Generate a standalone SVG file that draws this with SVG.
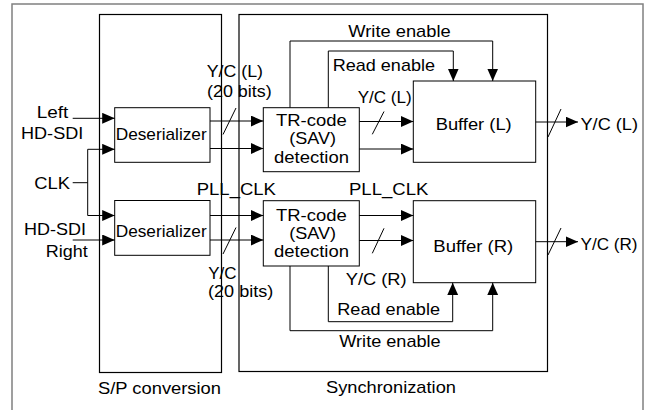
<svg xmlns="http://www.w3.org/2000/svg" width="647" height="410" viewBox="0 0 647 410">
<style>
text{font-family:"Liberation Sans",Arial,sans-serif;font-size:17px;fill:#000}
.box{fill:#fff;stroke:#000;stroke-width:1}
.cont{fill:none;stroke:#000;stroke-width:1.2}
.frame{fill:#fff;stroke:#808080;stroke-width:1.5}
.ln{fill:none;stroke:#000;stroke-width:1}
.ar{fill:none;stroke:#000;stroke-width:1;marker-end:url(#ah)}
</style>
<defs>
<marker id="ah" markerUnits="userSpaceOnUse" markerWidth="13" markerHeight="12" refX="12.5" refY="5.5" orient="auto">
<path d="M0,0 L12.5,5.5 L0,11 z" fill="#000"/>
</marker>
</defs>
<rect class="frame" x="12" y="4" width="631" height="430"/>
<g id="sp-conversion">
<rect class="cont" x="99.5" y="14.5" width="122" height="358"/>
<text x="98" y="393.5" textLength="123" lengthAdjust="spacingAndGlyphs">S/P conversion</text>
</g>
<g id="synchronization">
<rect class="cont" x="239" y="14.5" width="308.5" height="357"/>
<text x="326" y="393" textLength="130" lengthAdjust="spacingAndGlyphs">Synchronization</text>
</g>
<g id="input-labels">
<text x="36.7" y="118.3" textLength="31.6" lengthAdjust="spacingAndGlyphs">Left</text>
<text x="21" y="139.3" textLength="62.3" lengthAdjust="spacingAndGlyphs">HD-SDI</text>
<text x="34.3" y="188.7" textLength="35.7" lengthAdjust="spacingAndGlyphs">CLK</text>
<text x="24" y="235" textLength="62" lengthAdjust="spacingAndGlyphs">HD-SDI</text>
<text x="45.7" y="257" textLength="42" lengthAdjust="spacingAndGlyphs">Right</text>
</g>
<g id="deserializer-l">
<rect class="box" x="114.7" y="107.7" width="95.3" height="54.6"/>
<text x="115.7" y="140" textLength="91" lengthAdjust="spacingAndGlyphs">Deserializer</text>
</g>
<g id="deserializer-r">
<rect class="box" x="114.7" y="200.5" width="95.3" height="54.8"/>
<text x="115.7" y="236.7" textLength="91" lengthAdjust="spacingAndGlyphs">Deserializer</text>
</g>
<g id="trcode-l">
<rect class="box" x="263.3" y="107.7" width="96" height="64"/>
<text x="276" y="126" textLength="70.7" lengthAdjust="spacingAndGlyphs">TR-code</text>
<text x="289.3" y="144" textLength="46.7" lengthAdjust="spacingAndGlyphs">(SAV)</text>
<text x="274" y="162.5" textLength="75" lengthAdjust="spacingAndGlyphs">detection</text>
</g>
<g id="trcode-r">
<rect class="box" x="263.3" y="200.7" width="96" height="65.3"/>
<text x="276" y="220.7" textLength="70.7" lengthAdjust="spacingAndGlyphs">TR-code</text>
<text x="289.3" y="239" textLength="46.7" lengthAdjust="spacingAndGlyphs">(SAV)</text>
<text x="274" y="257.3" textLength="75" lengthAdjust="spacingAndGlyphs">detection</text>
</g>
<g id="buffer-l">
<rect class="box" x="413.3" y="81" width="122.4" height="81.3"/>
<text x="435.7" y="129.7" textLength="76" lengthAdjust="spacingAndGlyphs">Buffer (L)</text>
</g>
<g id="buffer-r">
<rect class="box" x="413.3" y="200.7" width="122.4" height="82"/>
<text x="433.3" y="251.7" textLength="80" lengthAdjust="spacingAndGlyphs">Buffer (R)</text>
</g>
<g id="connectors">
<path class="ar" d="M72.7,118.3 H114.7"/>
<path class="ln" d="M72.7,182.7 H87.7 M87.7,149.3 V215.5"/>
<path class="ar" d="M87.7,149.3 H114.7"/>
<path class="ar" d="M87.7,215.5 H114.7"/>
<path class="ar" d="M72.7,240 H114.7"/>
<path class="ar" d="M210,121 H263.3"/>
<path class="ar" d="M210,148.5 H263.3"/>
<path class="ar" d="M210,215.5 H263.3"/>
<path class="ar" d="M210,240 H263.3"/>
<path class="ln" d="M236,108 L223,134.5 M236,227.5 L223,254"/>
<path class="ar" d="M359.3,121.5 H413.3"/>
<path class="ar" d="M359.3,149 H413.3"/>
<path class="ar" d="M359.3,215.5 H413.3"/>
<path class="ar" d="M359.3,240.5 H413.3"/>
<path class="ln" d="M384,111.5 L372.3,134.3 M384,228.3 L372.3,253.3"/>
<path class="ar" d="M290,107.7 V41 H492.7 V81"/>
<path class="ar" d="M328.3,107.7 V51 H453.3 V81"/>
<path class="ar" d="M328.3,266 V321.7 H452.7 V282.7"/>
<path class="ar" d="M290,266 V330.7 H492.7 V282.7"/>
<path class="ar" d="M535.7,122 H578"/>
<path class="ar" d="M535.7,241.7 H578"/>
<path class="ln" d="M561,109 L548,137 M561,228 L548,255"/>
</g>
<g id="connector-labels">
<text x="206.7" y="76.5" textLength="56.3" lengthAdjust="spacingAndGlyphs">Y/C (L)</text>
<text x="207" y="97" textLength="64.7" lengthAdjust="spacingAndGlyphs">(20 bits)</text>
<text x="357.7" y="102.7" textLength="54" lengthAdjust="spacingAndGlyphs">Y/C (L)</text>
<text x="348.3" y="37" textLength="102.4" lengthAdjust="spacingAndGlyphs">Write enable</text>
<text x="332.7" y="70.7" textLength="102.3" lengthAdjust="spacingAndGlyphs">Read enable</text>
<text x="580.5" y="130" textLength="57.5" lengthAdjust="spacingAndGlyphs">Y/C (L)</text>
<text x="196.7" y="195" textLength="79.3" lengthAdjust="spacingAndGlyphs">PLL_CLK</text>
<text x="349" y="195" textLength="79.3" lengthAdjust="spacingAndGlyphs">PLL_CLK</text>
<text x="208.3" y="279.3" textLength="28.3" lengthAdjust="spacingAndGlyphs">Y/C</text>
<text x="208" y="296.7" textLength="65.3" lengthAdjust="spacingAndGlyphs">(20 bits)</text>
<text x="345.7" y="285" textLength="61" lengthAdjust="spacingAndGlyphs">Y/C (R)</text>
<text x="337.3" y="315" textLength="102.7" lengthAdjust="spacingAndGlyphs">Read enable</text>
<text x="339.3" y="347" textLength="101.4" lengthAdjust="spacingAndGlyphs">Write enable</text>
<text x="580.5" y="250" textLength="57" lengthAdjust="spacingAndGlyphs">Y/C (R)</text>
</g>
</svg>
